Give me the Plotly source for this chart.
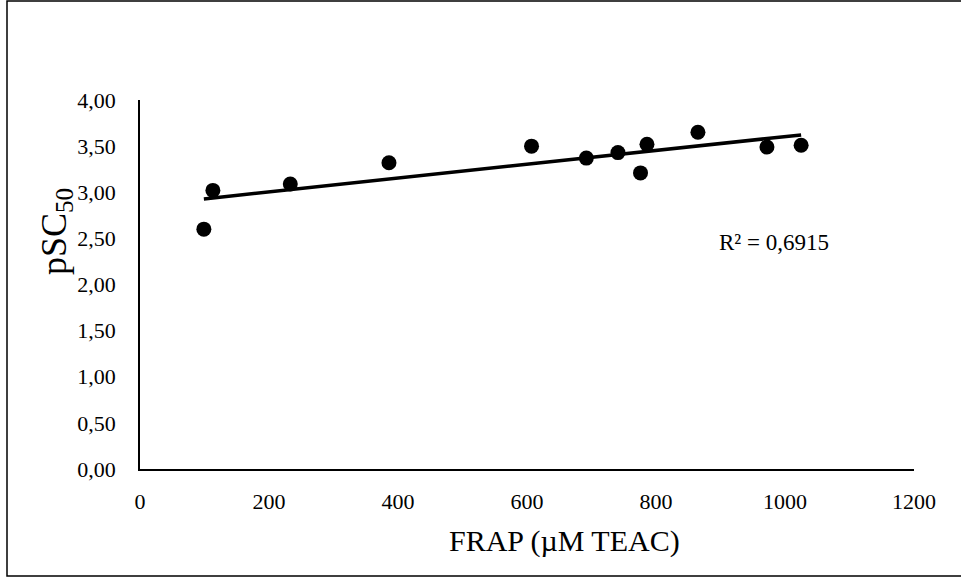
import numpy as np
import plotly.graph_objects as go

# FRAP antioxidant capacity vs. pSC50
frap = [99, 113, 233, 386, 607, 692, 741, 776, 786, 865, 972, 1025]
psc50 = [2.60, 3.02, 3.09, 3.32, 3.50, 3.37, 3.43, 3.21, 3.52, 3.65, 3.49, 3.51]

x_ticks = [0, 200, 400, 600, 800, 1000, 1200]
x_tick_labels = ["0", "200", "400", "600", "800", "1000", "1200"]
y_ticks = [0, 0.5, 1.0, 1.5, 2.0, 2.5, 3.0, 3.5, 4.0]
y_tick_labels = ["0,00", "0,50", "1,00", "1,50", "2,00", "2,50", "3,00", "3,50", "4,00"]
r2_label = "R² = 0,6915"

FONT = "Liberation Serif"

# least-squares linear trend over the data range
slope, intercept = np.polyfit(frap, psc50, 1)
trend_x = np.array([min(frap), max(frap)])
trend_y = slope * trend_x + intercept

fig = go.Figure()
fig.add_trace(go.Scatter(
    x=trend_x, y=trend_y, mode="lines",
    line=dict(color="black", width=3.5), showlegend=False, hoverinfo="skip",
))
fig.add_trace(go.Scatter(
    x=frap, y=psc50, mode="markers",
    marker=dict(color="black", size=15), showlegend=False,
))

fig.update_layout(
    width=961, height=578,
    margin=dict(l=140, r=47, t=100, b=109),
    paper_bgcolor="white", plot_bgcolor="white",
    font=dict(family=FONT, size=22, color="black"),
    xaxis=dict(
        range=[0, 1200], tickvals=x_ticks, ticktext=x_tick_labels,
        showline=True, linecolor="black", linewidth=2,
        showgrid=False, zeroline=False, ticks="", ticklabelstandoff=12,
    ),
    yaxis=dict(
        range=[0, 4], tickvals=y_ticks, ticktext=y_tick_labels,
        showline=True, linecolor="black", linewidth=1.5,
        showgrid=False, zeroline=False, ticks="", ticklabelstandoff=18,
    ),
    annotations=[
        dict(text="FRAP (µM TEAC)", xref="paper", yref="paper",
             x=0.549, y=-0.195, xanchor="center", yanchor="middle",
             showarrow=False, font=dict(family=FONT, size=30)),
        dict(text="pSC<sub>50</sub>", xref="paper", yref="paper",
             x=-0.1085, y=0.642, xanchor="center", yanchor="middle",
             textangle=-90, showarrow=False, font=dict(family=FONT, size=36)),
        dict(text=r2_label, xref="x", yref="y", x=983, y=2.45,
             xanchor="center", yanchor="middle", showarrow=False,
             font=dict(family=FONT, size=23)),
    ],
    shapes=[
        dict(type="rect", xref="paper", yref="paper",
             x0=(7 - 140) / 774, x1=(975 - 140) / 774,
             y0=(469 - 576) / 369, y1=(469 - 1) / 369,
             line=dict(color="black", width=1.5), fillcolor="rgba(0,0,0,0)"),
    ],
)

fig.write_html("out.html")
